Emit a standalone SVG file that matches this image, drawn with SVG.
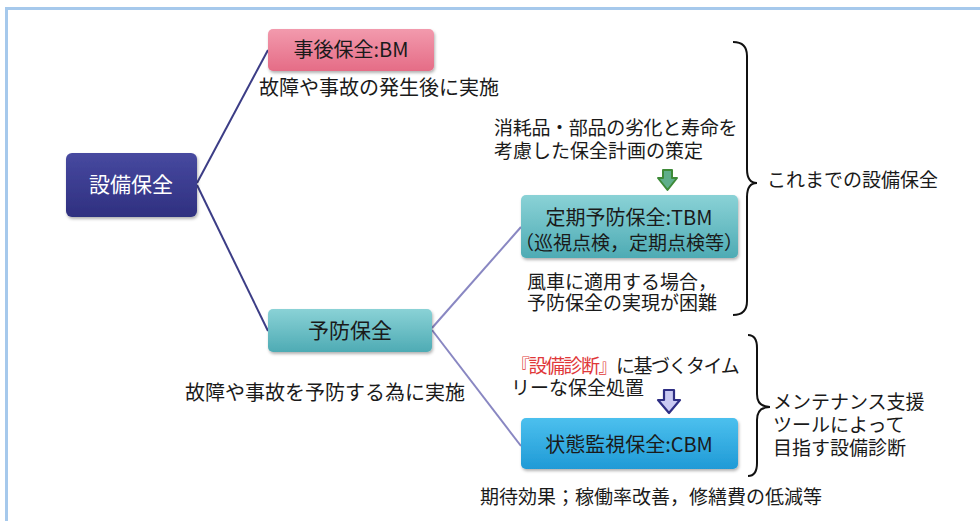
<svg xmlns="http://www.w3.org/2000/svg" width="980" height="521" viewBox="0 0 980 521">
<style>
text{font-family:"Noto Sans CJK JP","Noto Sans",sans-serif;fill:#1a1a1a}
.t{font-size:19px}
.tl{font-size:20px}
.n{font-size:20px;text-anchor:middle}
.w{fill:#ffffff;font-size:21px;text-anchor:middle}
.c1{stroke:#3c3d86;stroke-width:2;fill:none}
.c2{stroke:#8987c2;stroke-width:2;fill:none}
.br{stroke:#111;stroke-width:2;fill:none}
.box{filter:url(#sh)}
</style>
<defs>
<linearGradient id="gNavy" x1="0" y1="0" x2="0" y2="1"><stop offset="0" stop-color="#4749a0"/><stop offset="1" stop-color="#2f3080"/></linearGradient>
<linearGradient id="gPink" x1="0" y1="0" x2="0" y2="1"><stop offset="0" stop-color="#f29aad"/><stop offset="1" stop-color="#e56c86"/></linearGradient>
<linearGradient id="gTeal" x1="0" y1="0" x2="0" y2="1"><stop offset="0" stop-color="#8ad2d6"/><stop offset="1" stop-color="#4eabb4"/></linearGradient>
<linearGradient id="gBlue" x1="0" y1="0" x2="0" y2="1"><stop offset="0" stop-color="#4cc0ee"/><stop offset="1" stop-color="#1f9ad6"/></linearGradient>
<filter id="sh" x="-10%" y="-10%" width="125%" height="140%"><feDropShadow dx="1" dy="2" stdDeviation="1.5" flood-color="#000" flood-opacity="0.3"/></filter>
</defs>
<rect x="0" y="0" width="980" height="521" fill="#ffffff"/>
<line x1="5" y1="8.5" x2="980" y2="8.5" stroke="#a6c9ec" stroke-width="3"/>
<line x1="6.5" y1="7" x2="6.5" y2="521" stroke="#a6c9ec" stroke-width="3"/>

<g id="connectors">
<line class="c1" x1="197" y1="183" x2="268" y2="50"/>
<line class="c1" x1="197" y1="185" x2="268" y2="331"/>
<line class="c2" x1="432" y1="328" x2="521" y2="227"/>
<line class="c2" x1="432" y1="330" x2="521" y2="446"/>
</g>

<g id="node-setsubi">
<rect class="box" x="66" y="153" width="131" height="64" rx="6" fill="url(#gNavy)"/>
<text class="w" x="131" y="192">設備保全</text>
</g>

<g id="node-bm">
<rect class="box" x="268" y="29" width="166" height="42" rx="5" fill="url(#gPink)"/>
<text class="n" x="351" y="57">事後保全:BM</text>
</g>
<text class="tl" x="259" y="95">故障や事故の発生後に実施</text>

<g id="node-yobo">
<rect class="box" x="268" y="309" width="164" height="43" rx="5" fill="url(#gTeal)"/>
<text class="n" x="350" y="338" style="font-size:21px">予防保全</text>
</g>
<text class="tl" x="185" y="400">故障や事故を予防する為に実施</text>

<text class="t" x="494" y="135"><tspan x="494" y="135" letter-spacing="-0.3">消耗品・部品の劣化と寿命を</tspan><tspan x="494" y="158">考慮した保全計画の策定</tspan></text>

<g id="arrow-green">
<path d="M663 170 H672 V178 H677 L667.5 190 L658 178 H663 Z" fill="#5fae8a" stroke="#3e8a38" stroke-width="2" stroke-linejoin="round"/>
</g>

<g id="node-tbm">
<rect class="box" x="521" y="195" width="217" height="63" rx="5" fill="url(#gTeal)"/>
<text class="n" x="629" y="225"><tspan x="629" y="225">定期予防保全:TBM</tspan><tspan x="629" y="250" style="font-size:19px">（巡視点検，定期点検等）</tspan></text>
</g>

<text class="t" x="527" y="289"><tspan x="527" y="289">風車に適用する場合，</tspan><tspan x="527" y="310">予防保全の実現が困難</tspan></text>

<text class="t" x="511" y="373"><tspan x="511" y="373" letter-spacing="-1.5"><tspan fill="#e0383a">『設備診断』</tspan>に基づくタイム</tspan><tspan x="511" y="395">リーな保全処置</tspan></text>

<g id="arrow-purple">
<path d="M664 390 H674 V400 H680 L669 413 L658 400 H664 Z" fill="#c9c9f2" stroke="#2e2e84" stroke-width="2.2" stroke-linejoin="round"/>
</g>

<g id="node-cbm">
<rect class="box" x="521" y="418" width="217" height="51" rx="5" fill="url(#gBlue)"/>
<text class="n" x="629" y="452">状態監視保全:CBM</text>
</g>

<text class="t" x="480" y="504">期待効果；稼働率改善，修繕費の低減等</text>

<g id="brace-1">
<path class="br" d="M733 42 Q747 42 747 56 L747 169 Q747 183 757 183 Q747 183 747 197 L747 301 Q747 315 733 315"/>
</g>
<text class="t" x="767" y="187">これまでの設備保全</text>

<g id="brace-2">
<path class="br" d="M748 335 Q757 335 757 348 L757 394 Q757 407 770 407 Q757 407 757 420 L757 463 Q757 476 748 476"/>
</g>
<text class="t" x="773" y="409"><tspan x="773" y="409">メンテナンス支援</tspan><tspan x="773" y="432">ツールによって</tspan><tspan x="773" y="455">目指す設備診断</tspan></text>
</svg>
